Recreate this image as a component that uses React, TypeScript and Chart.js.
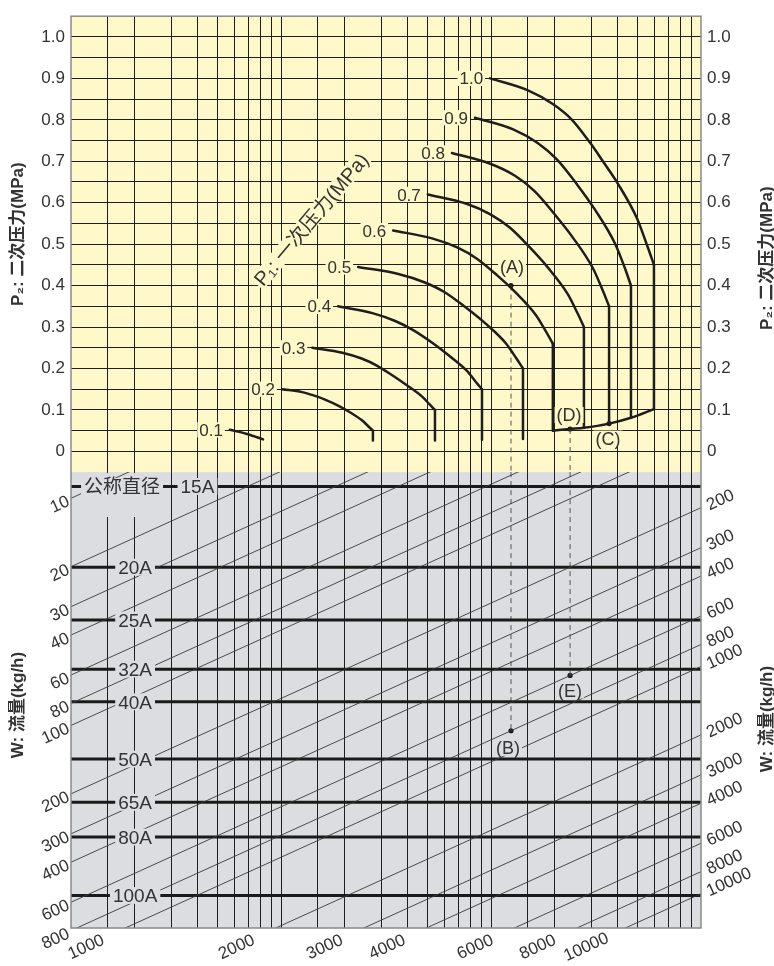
import React, { useEffect, useRef } from 'react';
import { Chart, registerables } from 'chart.js';

Chart.register(...registerables);

// ---------------- data ----------------
// hidden horizontal (log, 3 decades) quantity: vertical grid lines
const gridLinesX = [1.5, 2, 3, 4, 5, 6, 7, 8, 9, 10, 15, 20, 30, 40, 50, 60, 70, 80, 90, 100, 150, 200, 300, 400, 500, 600, 700, 800, 900];

// P2 (secondary pressure) axis
const p2GridLines = [0, 0.05, 0.1, 0.15, 0.2, 0.25, 0.3, 0.35, 0.4, 0.45, 0.5, 0.55, 0.6, 0.65, 0.7, 0.75, 0.8, 0.85, 0.9, 0.95, 1.0];
const p2TickValues = [0, 0.1, 0.2, 0.3, 0.4, 0.5, 0.6, 0.7, 0.8, 0.9, 1.0];
const p2TickLabels = ['0', '0.1', '0.2', '0.3', '0.4', '0.5', '0.6', '0.7', '0.8', '0.9', '1.0'];

// P1 (primary pressure) curves
const p1Labels = ['0.1', '0.2', '0.3', '0.4', '0.5', '0.6', '0.7', '0.8', '0.9', '1.0'];
const curveCoef: number[][] = [
  [5.71, 6.89, 8.21],
  [10.1, 12.6, 14.3, 16.2, 18.8, 21.2, 24.3, 26.1, 27.4],
  [14.1, 19.6, 24.2, 28.6, 34.0, 39.6, 47.0, 51.3, 54.1],
  [18.7, 27.5, 35.2, 42.8, 52.5, 62.8, 76.9, 85.1, 90.6],
  [23.3, 36.2, 48.1, 60.2, 75.9, 93.4, 117.6, 132.2, 142],
  [34.2, 52.4, 69.0, 85.7, 107.4, 131.2, 164.1, 183.7, 197],
  [50, 75.9, 99.3, 122.8, 153.1, 186.2, 231.7, 259, 277],
  [65.2, 99.2, 130.1, 161.2, 201, 244.5, 304.9, 341.4, 365],
  [83.9, 127.5, 166.8, 206.4, 257.8, 313.8, 389.9, 435.6, 464],
  [99, 150, 197, 243, 296, 341, 403, 496, 553, 597],
];
const curveP2: number[][] = [
  [0.052, 0.042, 0.029],
  [0.15, 0.143, 0.135, 0.125, 0.11, 0.095, 0.075, 0.06, 0.05],
  [0.25, 0.238, 0.224, 0.207, 0.183, 0.16, 0.132, 0.112, 0.10],
  [0.35, 0.333, 0.314, 0.292, 0.262, 0.232, 0.194, 0.166, 0.15],
  [0.445, 0.428, 0.408, 0.384, 0.347, 0.31, 0.261, 0.224, 0.20],
  [0.533, 0.514, 0.492, 0.465, 0.424, 0.383, 0.328, 0.287, 0.26],
  [0.62, 0.598, 0.572, 0.54, 0.492, 0.444, 0.38, 0.332, 0.30],
  [0.72, 0.694, 0.665, 0.628, 0.572, 0.517, 0.443, 0.387, 0.35],
  [0.805, 0.777, 0.744, 0.704, 0.643, 0.582, 0.501, 0.44, 0.40],
  [0.90, 0.871, 0.838, 0.80, 0.745, 0.70, 0.645, 0.562, 0.498, 0.45],
];
const dropBottomP2: (number | null)[] = [null, 0.026, 0.026, 0.028, 0.03, 0.05, 0.057, 0.067, 0.081, 0.102];

const envelopeCoef = [197, 238, 277, 365, 464, 597];
const envelopeP2 = [0.05, 0.054, 0.057, 0.067, 0.081, 0.102];

// Lower part: nominal pipe sizes and flow lines
const pipeSizes = ['15A', '20A', '25A', '32A', '40A', '50A', '65A', '80A', '100A'];
const pipeLevel = [8.87, 20.1, 34.3, 56.5, 78.7, 140.6, 218, 310, 560];
const flowValues = [10, 20, 30, 40, 60, 80, 100, 200, 300, 400, 600, 800, 1000, 2000, 3000, 4000, 6000, 8000, 10000];
const flowAtRight = [0.55, 1.1, 1.65, 2.2, 3.3, 4.4, 5.5, 11, 16.5, 22, 33, 44, 55, 110, 165, 220, 330, 440, 550];

// Worked example points
const exampleLabels = ['(A)', '(B)', '(C)', '(D)', '(E)'];
const exampleCoef = [124.5, 124.5, 365, 238, 238];
const exampleValue = [0.4, 105.5, 0.067, 0.054, 60.2];
const exampleAxis = ['yP', 'yW', 'yP', 'yP', 'yW'];

// ---------------- styles ----------------
const FONT = '"Liberation Sans", "Noto Sans CJK SC", Arial, sans-serif';
const TEXT = '#333333';
const YELLOW = '#fff8c8';
const GREY = '#dcdde0';
const GRID = '#1e1e1e';
const INK = '#1e1e1e';

function drawText(ctx: CanvasRenderingContext2D, text: string, x: number, y: number, o: any = {}) {
  const size = o.size ?? 17;
  const weight = o.weight ?? 'normal';
  const align = o.align ?? 'center';
  const padX = o.padX ?? 2;
  const padY = o.padY ?? 1;
  ctx.save();
  ctx.translate(x, y);
  if (o.angle) ctx.rotate(o.angle);
  ctx.font = `${weight} ${size}px ${FONT}`;
  const w = ctx.measureText(text).width;
  const x0 = align === 'left' ? 0 : align === 'right' ? -w : -w / 2;
  if (o.bg) {
    const h = size * 0.78 + 2 * padY;
    ctx.fillStyle = o.bg;
    ctx.fillRect(x0 - padX, -h / 2, w + 2 * padX, h);
  }
  ctx.fillStyle = o.color ?? TEXT;
  ctx.textAlign = 'left';
  ctx.textBaseline = 'alphabetic';
  ctx.fillText(text, x0, size * 0.36);
  ctx.restore();
}

const bgPlugin = {
  id: 'regions',
  beforeDraw(chart: any) {
    const { ctx, chartArea: a } = chart;
    const yP = chart.scales.yP, yW = chart.scales.yW;
    ctx.save();
    ctx.fillStyle = YELLOW;
    ctx.fillRect(a.left, yP.top, a.right - a.left, yP.bottom - yP.top);
    ctx.fillStyle = GREY;
    ctx.fillRect(a.left, yW.top, a.right - a.left, yW.bottom - yW.top);
    ctx.restore();
  },
  beforeDatasetsDraw(chart: any) {
    // gap of the first two vertical lines just under the "公称直径" label
    const { ctx } = chart;
    const xs = chart.scales.x, yW = chart.scales.yW;
    const x1 = xs.getPixelForValue(1.3), x2 = xs.getPixelForValue(2.3);
    ctx.save();
    ctx.fillStyle = GREY;
    ctx.fillRect(x1, yW.top + 1, x2 - x1, yW.getPixelForValue(12.1) - yW.top - 1);
    ctx.restore();
  },
};

const clipPlugin = {
  id: 'clipStack',
  beforeDatasetDraw(chart: any, args: any) {
    const ys = args.meta.yScale, xs = chart.scales.x;
    const ctx = chart.ctx;
    ctx.save();
    ctx.beginPath();
    ctx.rect(xs.left, ys.top, xs.right - xs.left, ys.bottom - ys.top);
    ctx.clip();
  },
  afterDatasetDraw(chart: any) {
    chart.ctx.restore();
  },
};

const annotPlugin = {
  id: 'annotations',
  afterDraw(chart: any) {
    const { ctx, chartArea: a } = chart;
    const xs = chart.scales.x, yP = chart.scales.yP, yW = chart.scales.yW;

    // P1 curve labels
    curveCoef.forEach((c, i) => {
      const px = xs.getPixelForValue(c[0]);
      const py = yP.getPixelForValue(curveP2[i][0]);
      drawText(ctx, p1Labels[i], px - 7, py, { align: 'right', bg: YELLOW });
    });
    // rotated P1 caption
    drawText(ctx, 'P₁: 一次压力(MPa)', xs.getPixelForValue(13.9), yP.getPixelForValue(0.56), {
      angle: -0.873, bg: YELLOW, size: 20,
    });

    // pipe size labels
    pipeSizes.forEach((s, i) => {
      const px = xs.getPixelForValue(i === 0 ? 4 : 2.02);
      const py = yW.getPixelForValue(pipeLevel[i]);
      drawText(ctx, s, px, py, { size: 19, bg: GREY, padX: 3 });
    });
    drawText(ctx, '公称直径', xs.getPixelForValue(1.75), yW.getPixelForValue(pipeLevel[0]), { size: 19, bg: GREY, padX: 3 });

    // flow line labels
    flowValues.forEach((w, i) => {
      const x0 = xs.getPixelForValue(1), y0 = yW.getPixelForValue(w);
      const x1 = xs.getPixelForValue(1000), y1 = yW.getPixelForValue(flowAtRight[i]);
      const slope = (y1 - y0) / (x1 - x0);
      const ang = Math.atan(slope);
      const txt = String(w);
      if (y0 <= yW.bottom + 6) {
        const ax = a.left - 3;
        drawText(ctx, txt, ax, y0 + slope * (ax - x0), { align: 'right', angle: ang });
      } else {
        const xb = x0 + (yW.bottom - y0) / slope;
        const ay = yW.bottom + 18;
        drawText(ctx, txt, xb + 18 / slope, ay, { align: 'center', angle: ang });
      }
      if (y1 >= yW.top) {
        const ax = a.right + 6;
        drawText(ctx, txt, ax, y0 + slope * (ax - x0), { align: 'left', angle: ang });
      }
    });

    // example labels
    const offs = [[1, -19], [-3, 17], [-1, 15], [-1, -14], [0, 15]];
    exampleLabels.forEach((t, i) => {
      const ys = chart.scales[exampleAxis[i]];
      const px = xs.getPixelForValue(exampleCoef[i]);
      const py = ys.getPixelForValue(exampleValue[i]);
      drawText(ctx, t, px + offs[i][0], py + offs[i][1], { size: 18, bg: exampleAxis[i] === 'yP' ? YELLOW : GREY });
    });

    // axis titles
    const midP = (yP.top + yP.bottom) / 2, midW = (yW.top + yW.bottom) / 2;
    const tP = 'P₂: 二次压力(MPa)', tW = 'W: 流量(kg/h)';
    drawText(ctx, tP, 17, midP - 10, { weight: 'bold', angle: -Math.PI / 2 });
    drawText(ctx, tP, 766, midP + 14, { weight: 'bold', angle: -Math.PI / 2 });
    drawText(ctx, tW, 17, midW + 5, { weight: 'bold', angle: -Math.PI / 2 });
    drawText(ctx, tW, 766, midW + 19, { weight: 'bold', angle: -Math.PI / 2 });

    // frame
    ctx.save();
    ctx.strokeStyle = '#8a8a8a';
    ctx.lineWidth = 1.5;
    ctx.strokeRect(a.left, a.top, a.right - a.left, a.bottom - a.top);
    ctx.restore();
  },
};

export default function App() {
  const ref = useRef<HTMLCanvasElement>(null);

  useEffect(() => {
    document.body.style.margin = '0';
    const canvas = ref.current!;
    const datasets: any[] = [];
    const line = (data: any[], yAxisID: string, extra: any = {}) => ({
      data, yAxisID, xAxisID: 'x', borderColor: INK, backgroundColor: INK, borderWidth: 2.5,
      pointRadius: 0, fill: false, tension: 0, borderCapStyle: 'round', borderJoinStyle: 'round', ...extra,
    });

    // lower part: flow lines then pipe lines
    flowValues.forEach((w, i) => {
      datasets.push(line([{ x: 1, y: w }, { x: 1000, y: flowAtRight[i] }], 'yW', { borderWidth: 0.9, borderColor: '#3a3a3a', borderCapStyle: 'butt' }));
    });
    pipeLevel.forEach((lv) => {
      datasets.push(line([{ x: 1, y: lv }, { x: 1000, y: lv }], 'yW', { borderWidth: 3, borderColor: '#1a1a1a', borderCapStyle: 'butt' }));
    });

    // upper part: P1 curves and critical drops
    curveCoef.forEach((c, i) => {
      datasets.push(line(c.map((x, j) => ({ x, y: curveP2[i][j] })), 'yP', { cubicInterpolationMode: 'monotone' }));
      const b = dropBottomP2[i];
      if (b != null) {
        const xe = c[c.length - 1], pe = curveP2[i][c.length - 1];
        datasets.push(line([{ x: xe, y: pe }, { x: xe, y: b }], 'yP'));
      }
    });
    datasets.push(line(envelopeCoef.map((x, j) => ({ x, y: envelopeP2[j] })), 'yP', { cubicInterpolationMode: 'monotone' }));

    // dashed reading lines A->B and D->E
    const dash = { borderWidth: 1, borderColor: '#555', borderDash: [5, 4], borderCapStyle: 'butt' };
    [[0, 1], [3, 4]].forEach(([s, e]) => {
      datasets.push(line([{ x: exampleCoef[s], y: exampleValue[s] }, { x: exampleCoef[s], y: -0.05 }], 'yP', dash));
      datasets.push(line([{ x: exampleCoef[e], y: 7.67 }, { x: exampleCoef[e], y: exampleValue[e] }], 'yW', dash));
    });
    // example points
    exampleLabels.forEach((_, i) => {
      datasets.push(line([{ x: exampleCoef[i], y: exampleValue[i] }], exampleAxis[i], {
        showLine: false, pointRadius: 2.6, pointBackgroundColor: '#1a1a1a', pointBorderWidth: 0,
      }));
    });

    const tickCb = (v: any) => {
      const i = p2TickValues.findIndex((t) => Math.abs(t - Number(v)) < 1e-6);
      return i < 0 ? '' : p2TickLabels[i];
    };
    const pTicks = (s: any) => { s.ticks = p2GridLines.map((v) => ({ value: v })); };
    const tickFont = { family: FONT, size: 17 };

    const chart = new Chart(canvas, {
      type: 'line',
      data: { datasets },
      options: {
        responsive: false,
        animation: false,
        devicePixelRatio: 1,
        events: [],
        layout: { padding: { top: 5, left: 0, right: 0, bottom: 0 } },
        plugins: { legend: { display: false }, tooltip: { enabled: false } },
        scales: {
          x: {
            type: 'logarithmic', min: 1, max: 1000,
            afterBuildTicks: (s: any) => { s.ticks = gridLinesX.map((v) => ({ value: v })); },
            ticks: { display: false },
            grid: { color: GRID, lineWidth: 1, drawTicks: false },
            border: { display: false },
            afterFit: (s: any) => { s.height = 38; },
          },
          yW: {
            type: 'logarithmic', position: 'left', stack: 'L', reverse: true, min: 7.67, max: 779,
            ticks: { display: false }, grid: { display: false }, border: { display: false },
            afterFit: (s: any) => { s.width = 71; },
          },
          yP: {
            type: 'linear', position: 'left', stack: 'L', min: -0.05, max: 1.05,
            afterBuildTicks: pTicks,
            ticks: { callback: tickCb, font: tickFont, color: TEXT, padding: 6, autoSkip: false, maxRotation: 0 },
            grid: { color: GRID, lineWidth: 1, drawTicks: false },
            border: { display: false },
            afterFit: (s: any) => { s.width = 71; },
          },
          yPR: {
            type: 'linear', position: 'right', stack: 'R', min: -0.05, max: 1.05,
            afterBuildTicks: pTicks,
            ticks: { callback: tickCb, font: tickFont, color: TEXT, padding: 6, autoSkip: false, maxRotation: 0 },
            grid: { display: false, drawTicks: false },
            border: { display: false },
            afterFit: (s: any) => { s.width = 73; },
          },
          yWR: {
            type: 'logarithmic', position: 'right', stack: 'R', reverse: true, min: 7.67, max: 779,
            ticks: { display: false }, grid: { display: false }, border: { display: false },
            afterFit: (s: any) => { s.width = 73; },
          },
        },
      } as any,
      plugins: [bgPlugin, clipPlugin, annotPlugin],
    });
    return () => chart.destroy();
  }, []);

  return <canvas ref={ref} width={774} height={966} style={{ display: 'block' }} />;
}
